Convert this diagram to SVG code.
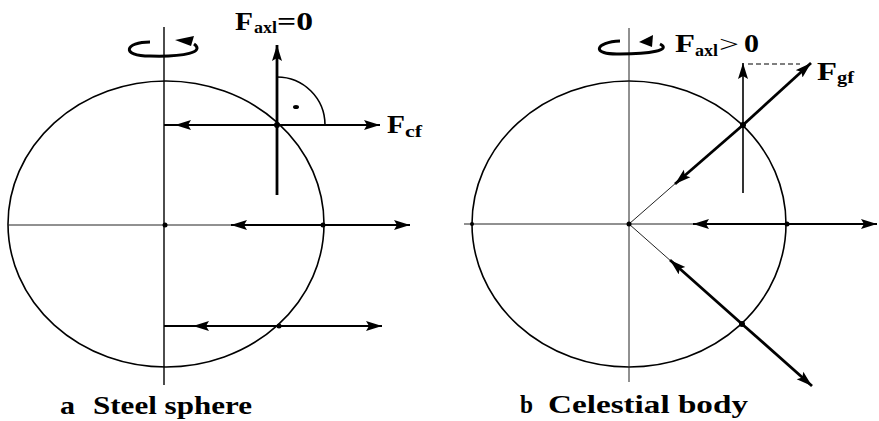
<svg xmlns="http://www.w3.org/2000/svg" width="879" height="421" viewBox="0 0 879 421">
<defs>
<marker id="ah" markerUnits="userSpaceOnUse" markerWidth="18" markerHeight="11" refX="16" refY="5.5" orient="auto">
<path d="M0,0.5 L16,5.5 L0,10.5 L3,5.5 z" fill="#000"/>
</marker>
</defs>
<style>
.outline{fill:none;stroke:#000;stroke-width:1.6}
.axis{stroke:#000;stroke-width:1.4;fill:none}
.thin{stroke:#222;stroke-width:1;fill:none}
.force{stroke:#000;stroke-width:2.8;fill:none;marker-end:url(#ah)}
.mid{stroke:#000;stroke-width:1.9;fill:none;marker-end:url(#ah)}
.dot{fill:#000}
.rot{fill:none;stroke:#000;stroke-width:3}
</style>
<rect width="879" height="421" fill="#fff"/>

<g id="sphere-a">
<ellipse class="outline" cx="166" cy="224" rx="158" ry="143"/>
<line class="axis" x1="164" y1="27" x2="164" y2="385"/>
<line class="thin" x1="8" y1="225" x2="323" y2="225"/>
<path class="rot" d="M150,42 C125,42 120,56 150,56 C185,57 205,52 194,44"/>
<path d="M175,40 L194,36 L191,46 z" fill="#000"/>
<path d="M277,77 A48,48 0 0 1 325,125" class="outline"/>
<ellipse class="dot" cx="296" cy="107" rx="3" ry="2"/>
</g>

<g id="sphere-b">
<ellipse class="outline" cx="629" cy="224" rx="157" ry="143"/>
<line class="thin" x1="629" y1="28" x2="629" y2="382"/>
<line class="thin" x1="464" y1="224" x2="787" y2="224"/>
<line class="thin" x1="629" y1="224" x2="677" y2="182"/>
<line class="thin" x1="629" y1="224" x2="672" y2="262"/>
<path class="rot" d="M620,41 C595,42 590,55 620,54 C650,54 672,50 660,44"/>
<path d="M639,42 L653,35 L652,47 z" fill="#000"/>
</g>

<g id="connectors">
<line class="force" x1="277" y1="195" x2="277" y2="45"/>
<line class="mid" x1="164" y1="125" x2="277" y2="125" style="marker-end:none"/>
<line class="mid" x1="277" y1="125" x2="175" y2="125"/>
<line class="mid" x1="277" y1="125" x2="380" y2="125"/>
<line class="mid" x1="323" y1="225" x2="231" y2="225"/>
<line class="mid" x1="323" y1="225" x2="410" y2="225"/>
<line class="mid" x1="164" y1="326" x2="279" y2="326" style="marker-end:none"/>
<line class="mid" x1="279" y1="326" x2="193" y2="326"/>
<line class="mid" x1="279" y1="326" x2="382" y2="326"/>
<circle class="dot" cx="277" cy="125" r="3"/>
<circle class="dot" cx="323" cy="225" r="2.5"/>
<circle class="dot" cx="165" cy="225" r="2.5"/>
<circle class="dot" cx="279" cy="326" r="2.5"/>

<line class="mid" x1="743" y1="193" x2="743" y2="63" style="stroke-width:1.6"/>
<line x1="748" y1="64" x2="800" y2="64" stroke="#000" stroke-width="1.2" stroke-dasharray="5,3"/>
<line class="force" x1="743" y1="125" x2="675" y2="184"/>
<line class="force" x1="743" y1="125" x2="811" y2="63"/>
<line class="mid" x1="787" y1="224" x2="693" y2="224"/>
<line class="mid" x1="787" y1="224" x2="877" y2="224"/>
<line class="force" x1="742" y1="324" x2="670" y2="260"/>
<line class="force" x1="742" y1="324" x2="812" y2="386"/>
<circle class="dot" cx="743" cy="125" r="3"/>
<circle class="dot" cx="787" cy="224" r="2.5"/>
<circle class="dot" cx="629" cy="224" r="2.5"/>
<circle class="dot" cx="472" cy="224" r="2"/>
<circle class="dot" cx="742" cy="324" r="3"/>
</g>

<g id="labels" font-family="'Liberation Serif', 'Times New Roman', serif" font-weight="bold" fill="#000">
<text x="235" y="30" font-size="25" textLength="18" lengthAdjust="spacingAndGlyphs">F</text>
<text x="254" y="33" font-size="16" textLength="23" lengthAdjust="spacingAndGlyphs">axl</text>
<text x="277" y="30" font-size="25" textLength="36" lengthAdjust="spacingAndGlyphs">=0</text>

<text x="387" y="133" font-size="26" textLength="18" lengthAdjust="spacingAndGlyphs">F</text>
<text x="405" y="137" font-size="16" textLength="17" lengthAdjust="spacingAndGlyphs">cf</text>

<text x="675" y="52" font-size="26" textLength="20" lengthAdjust="spacingAndGlyphs">F</text>
<text x="695" y="56" font-size="16" textLength="23" lengthAdjust="spacingAndGlyphs">axl</text>
<text x="719" y="52" font-size="24" font-weight="normal" textLength="20" lengthAdjust="spacingAndGlyphs">&gt;</text>
<text x="744" y="52" font-size="26" textLength="15" lengthAdjust="spacingAndGlyphs">0</text>

<text x="817" y="80" font-size="26" textLength="20" lengthAdjust="spacingAndGlyphs">F</text>
<text x="837" y="83" font-size="16" textLength="17" lengthAdjust="spacingAndGlyphs">gf</text>

<text x="60" y="414" font-size="25" textLength="15" lengthAdjust="spacingAndGlyphs">a</text>
<text x="93" y="414" font-size="25" textLength="159" lengthAdjust="spacingAndGlyphs">Steel sphere</text>
<text x="520" y="413" font-size="25" textLength="13" lengthAdjust="spacingAndGlyphs">b</text>
<text x="548" y="413" font-size="25" textLength="200" lengthAdjust="spacingAndGlyphs">Celestial body</text>
</g>
</svg>
